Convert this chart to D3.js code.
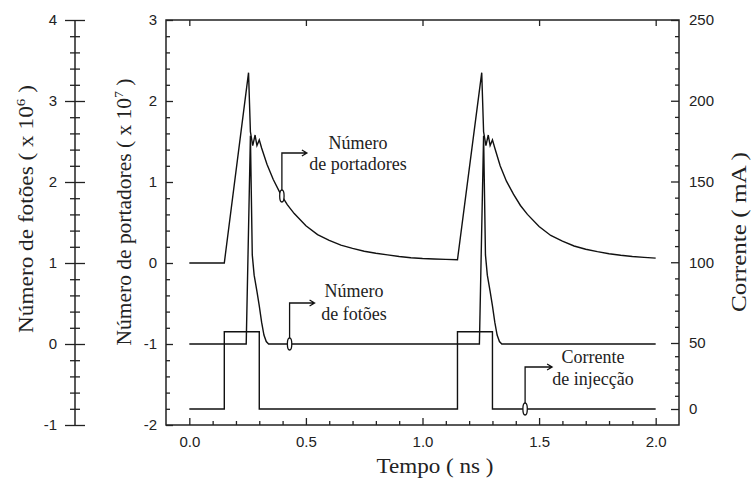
<!DOCTYPE html>
<html>
<head>
<meta charset="utf-8">
<script src="https://cdn.jsdelivr.net/npm/d3@7"></script>
<style>
  body { margin: 0; background: #fff; }
  .tick text { font-family: "Liberation Sans", Arial, sans-serif; font-size: 15px; fill: #222; }
  .tick line { stroke: #222; stroke-width: 1.3; }
  .title { font-family: "Liberation Serif", "Times New Roman", serif; font-size: 20px; fill: #222; }
  .note { font-family: "Liberation Serif", "Times New Roman", serif; font-size: 18px; fill: #222; }
</style>
</head>
<body>
<svg id="chart" width="753" height="483"></svg>
<script>
// tick values for each axis
const timeTicks = [0, 0.5, 1.0, 1.5, 2.0];
const carrierTicks = [-2, -1, 0, 1, 2, 3];
const photonTicks = [-1, 0, 1, 2, 3, 4];
const currentTicks = [0, 50, 100, 150, 200, 250];

// number of carriers (x 10^7) vs time (ns)
const carrierTime = [0, 0.15, 0.254, 0.262, 0.272, 0.282, 0.29, 0.30, 0.31, 0.333, 0.36, 0.39, 0.42, 0.45, 0.50,
  0.55, 0.60, 0.65, 0.70, 0.75, 0.80, 0.85, 0.90, 0.95, 1.00, 1.05, 1.10, 1.15,
  1.254, 1.262, 1.272, 1.282, 1.29, 1.30, 1.31, 1.333, 1.36, 1.39, 1.42, 1.45, 1.50,
  1.55, 1.60, 1.65, 1.70, 1.75, 1.80, 1.85, 1.90, 1.95, 2.00];
const carrierValue = [0, 0, 2.35, 1.62, 1.45, 1.58, 1.45, 1.52, 1.42, 1.22, 1.03, 0.86, 0.72, 0.61, 0.46,
  0.35, 0.28, 0.22, 0.18, 0.145, 0.12, 0.10, 0.08, 0.065, 0.055, 0.05, 0.045, 0.04,
  2.35, 1.62, 1.45, 1.58, 1.45, 1.52, 1.42, 1.20, 1.01, 0.85, 0.71, 0.60, 0.45,
  0.34, 0.27, 0.21, 0.17, 0.14, 0.115, 0.095, 0.08, 0.07, 0.06];

// number of photons (x 10^6) vs time (ns)
const photonTime = [0, 0.244, 0.262, 0.27, 0.278, 0.29, 0.30, 0.31, 0.32, 0.33, 0.34,
  1.244, 1.262, 1.27, 1.278, 1.29, 1.30, 1.31, 1.32, 1.33, 1.34, 2.0];
const photonValue = [0, 0, 2.57, 1.1, 0.85, 0.65, 0.47, 0.27, 0.11, 0.03, 0,
  0, 2.57, 1.1, 0.85, 0.65, 0.47, 0.27, 0.11, 0.03, 0, 0];

// injection current (mA), stepped
const currentTime = [0, 0.15, 0.30, 1.15, 1.30, 2.0];
const currentValue = [0, 57, 0, 57, 0, 0];

// annotations
const noteLines = [["Número", "de portadores"], ["Número", "de fotões"], ["Corrente", "de injecção"]];
const noteTime = [0.397, 0.43, 1.44];

const svg = d3.select("#chart");
const plotLeft = 166, plotRight = 679, plotTop = 20, plotBottom = 425;

const x = d3.scaleLinear().domain([-0.1, 2.1]).range([plotLeft, plotRight]);
const yCarrier = d3.scaleLinear().domain([-2, 3]).range([plotBottom, plotTop]);
const yPhoton = d3.scaleLinear().domain([-1, 4]).range([plotBottom, plotTop]);
// the current axis is not evenly spaced below 50 mA in the original
const yCurrent = d3.scaleLinear().domain([0, 50, 250]).range([409, 343, plotTop]);

const intFmt = d => String(d); // plain hyphen for negatives, like the original

function minors(lo, hi, step, majors) {
  const out = [];
  for (let v = lo; v <= hi + 1e-9; v += step) {
    const r = Math.round(v * 1000) / 1000;
    if (!majors.some(m => Math.abs(m - r) < 1e-6)) out.push(r);
  }
  return out;
}

function clean(g) {
  g.select(".domain").remove();
  g.attr("font-size", null).attr("font-family", null);
}

// photon axis (free standing, ticks cross the line)
const gp = svg.append("g").attr("transform", "translate(75,0)");
gp.append("g")
  .call(d3.axisLeft(yPhoton).tickValues(photonTicks).tickSize(10).tickPadding(8).tickFormat(intFmt))
  .call(clean)
  .selectAll(".tick line").attr("x1", 10).attr("x2", -10);
gp.append("g")
  .call(d3.axisLeft(yPhoton).tickValues(minors(-1, 4, 0.2, photonTicks)).tickSize(5).tickFormat(""))
  .call(clean)
  .selectAll(".tick line").attr("x1", 5).attr("x2", -5);
gp.append("line").attr("y1", yPhoton(4)).attr("y2", yPhoton(-1))
  .attr("stroke", "#222").attr("stroke-width", 1.5);

// carrier axis (left side of the box)
svg.append("g").attr("transform", `translate(${plotLeft},0)`)
  .call(d3.axisLeft(yCarrier).tickValues(carrierTicks).tickSize(-7).tickPadding(9).tickFormat(intFmt))
  .call(clean);
svg.append("g").attr("transform", `translate(${plotLeft},0)`)
  .call(d3.axisLeft(yCarrier).tickValues(minors(-2, 3, 0.2, carrierTicks)).tickSize(-4).tickFormat(""))
  .call(clean);

// current axis (right side of the box)
svg.append("g").attr("transform", `translate(${plotRight},0)`)
  .call(d3.axisRight(yCurrent).tickValues(currentTicks).tickSize(-8).tickPadding(10).tickFormat(intFmt))
  .call(clean);
svg.append("g").attr("transform", `translate(${plotRight},0)`)
  .call(d3.axisRight(yCurrent).tickValues(minors(0, 250, 10, currentTicks)).tickSize(-4).tickFormat(""))
  .call(clean);

// time axis
svg.append("g").attr("transform", `translate(0,${plotBottom})`)
  .call(d3.axisBottom(x).tickValues(timeTicks).tickSize(-7).tickPadding(11).tickFormat(d3.format(".1f")))
  .call(clean);
svg.append("g").attr("transform", `translate(0,${plotBottom})`)
  .call(d3.axisBottom(x).tickValues(minors(0, 2, 0.1, timeTicks)).tickSize(-4).tickFormat(""))
  .call(clean);
svg.append("g").attr("transform", `translate(0,${plotTop})`)
  .call(d3.axisTop(x).tickValues(timeTicks).tickSize(-6).tickFormat(""))
  .call(clean);

svg.append("rect")
  .attr("x", plotLeft).attr("y", plotTop).attr("width", plotRight - plotLeft).attr("height", plotBottom - plotTop)
  .attr("fill", "none").attr("stroke", "#222").attr("stroke-width", 1.5);

// curves
const lineStyle = sel => sel.attr("fill", "none").attr("stroke", "#111").attr("stroke-width", 1.4);

const carrierLine = d3.line().x(d => x(d[0])).y(d => yCarrier(d[1]));
svg.append("path").attr("d", carrierLine(d3.zip(carrierTime, carrierValue))).call(lineStyle);

const photonLine = d3.line().x(d => x(d[0])).y(d => yPhoton(d[1]));
svg.append("path").attr("d", photonLine(d3.zip(photonTime, photonValue))).call(lineStyle);

const currentLine = d3.line().x(d => x(d[0])).y(d => yCurrent(d[1])).curve(d3.curveStepAfter);
svg.append("path").attr("d", currentLine(d3.zip(currentTime, currentValue))).call(lineStyle);

// annotations
function valueAt(ts, vs, t) {
  const i = d3.bisectRight(ts, t);
  if (i <= 0) return vs[0];
  if (i >= ts.length) return vs[vs.length - 1];
  const f = (t - ts[i - 1]) / (ts[i] - ts[i - 1]);
  return vs[i - 1] + f * (vs[i] - vs[i - 1]);
}
const markerY = [
  yCarrier(valueAt(carrierTime, carrierValue, noteTime[0])),
  yPhoton(valueAt(photonTime, photonValue, noteTime[1])),
  yCurrent(currentValue[d3.bisectRight(currentTime, noteTime[2]) - 1])
];
const noteLayout = [
  { cornerY: 153, tipDx: 25, cx: 358, base: [149, 170] },
  { cornerY: 303, tipDx: 25, cx: 354, base: [297, 320] },
  { cornerY: 367, tipDx: 27, cx: 593, base: [363, 385] }
];

noteLines.forEach((lines, i) => {
  const mx = x(noteTime[i]), my = markerY[i], L = noteLayout[i];
  const tip = mx + L.tipDx;
  svg.append("path")
    .attr("d", `M${mx},${my - 6}V${L.cornerY}H${tip}M${tip - 5},${L.cornerY - 3}L${tip},${L.cornerY}L${tip - 5},${L.cornerY + 3}`)
    .attr("fill", "none").attr("stroke", "#111").attr("stroke-width", 1.3);
  svg.append("ellipse").attr("cx", mx).attr("cy", my).attr("rx", 2.2).attr("ry", 6)
    .attr("fill", "#fff").attr("stroke", "#111").attr("stroke-width", 1.3);
  lines.forEach((s, j) => {
    svg.append("text").attr("class", "note")
      .attr("x", L.cx).attr("y", L.base[j]).attr("text-anchor", "middle").text(s);
  });
});

// axis titles: stretched horizontally to the width they take in the original
function title(tx, ty, angle, len, main, sup) {
  const g = svg.append("g").attr("transform", `translate(${tx},${ty}) rotate(${angle})`);
  const t = g.append("text").attr("class", "title").attr("text-anchor", "middle");
  t.append("tspan").text(main);
  if (sup) {
    t.append("tspan").attr("dy", -8).attr("font-size", 13).text(sup);
    t.append("tspan").attr("dy", 8).text(" )");
  }
  const w = t.node().getComputedTextLength();
  t.attr("transform", `scale(${len / w},1)`);
}
title(435, 473, 0, 117, "Tempo ( ns )", null);
title(33, 209, -90, 248, "Número de fotões ( x 10", "6");
title(131, 212, -90, 267, "Número de portadores ( x 10", "7");
title(746, 232, -90, 160, "Corrente ( mA )", null);
</script>
</body>
</html>
